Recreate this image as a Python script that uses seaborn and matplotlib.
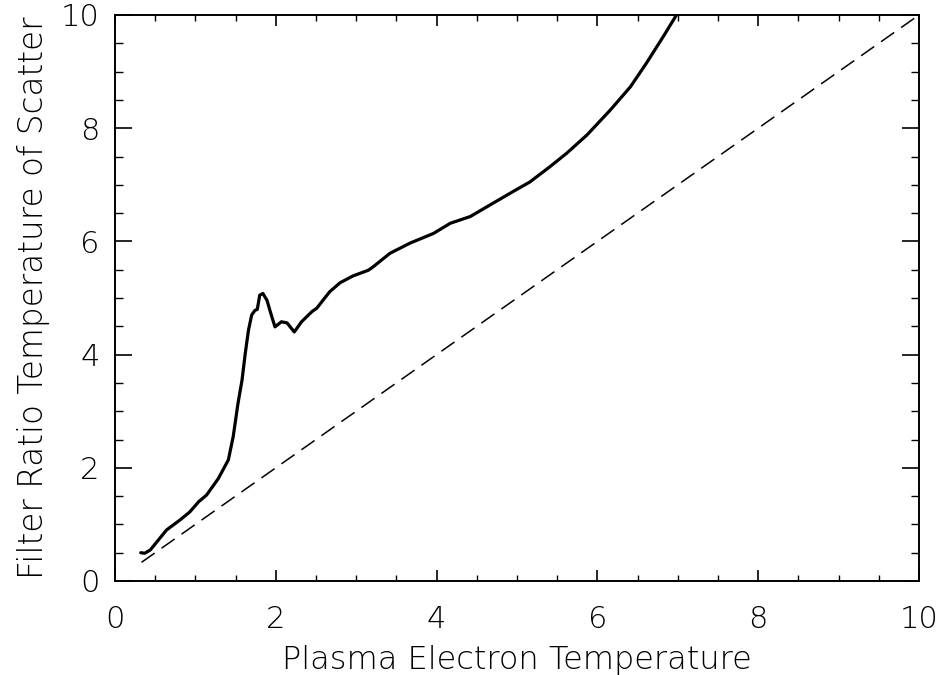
import matplotlib
matplotlib.use("Agg")
import matplotlib.pyplot as plt
from matplotlib.ticker import MultipleLocator
import seaborn as sns
import pandas as pd

# Filter-ratio temperature of scattered emission vs. plasma electron temperature
plasma_te = [0.32, 0.37, 0.44, 0.52, 0.64, 0.81, 0.93, 1.04, 1.14, 1.285,
             1.41, 1.47, 1.53, 1.58, 1.62, 1.66, 1.70, 1.74, 1.77, 1.80,
             1.84, 1.89, 1.95, 1.99, 2.07, 2.14, 2.23, 2.32, 2.45, 2.51,
             2.57, 2.67, 2.80, 2.96, 3.15, 3.21, 3.42, 3.67, 3.96, 4.17,
             4.42, 4.66, 4.95, 5.16, 5.41, 5.62, 5.87, 6.16, 6.41, 6.61,
             6.82, 6.97, 7.05]
scatter_te = [0.50, 0.49, 0.55, 0.69, 0.90, 1.08, 1.22, 1.40, 1.52, 1.81,
              2.14, 2.55, 3.14, 3.55, 4.02, 4.43, 4.70, 4.78, 4.80, 5.05,
              5.08, 4.96, 4.67, 4.49, 4.58, 4.56, 4.40, 4.58, 4.76, 4.82,
              4.93, 5.11, 5.27, 5.39, 5.49, 5.55, 5.79, 5.97, 6.14, 6.32,
              6.44, 6.64, 6.88, 7.05, 7.32, 7.56, 7.88, 8.32, 8.73, 9.15,
              9.62, 9.97, 10.15]

# one-to-one reference line
equal_x = [0.33, 10.0]
equal_y = [0.33, 10.0]

ticks = [0, 2, 4, 6, 8, 10]

sns.set_style("ticks")
plt.rcParams["font.family"] = ["DejaVu Sans"]
plt.rcParams["text.color"] = "black"
plt.rcParams["axes.labelcolor"] = "black"
plt.rcParams["xtick.color"] = "black"
plt.rcParams["ytick.color"] = "black"

fig = plt.figure(figsize=(9.4, 6.75), dpi=100)
ax = fig.add_axes([115 / 940, 1 - 581 / 675, 804 / 940, 566 / 675])

curve = pd.DataFrame({"te": plasma_te, "tf": scatter_te})
ref = pd.DataFrame({"te": equal_x, "tf": equal_y})

sns.lineplot(data=curve, x="te", y="tf", ax=ax, sort=False, estimator=None,
             color="black", linewidth=2.3)
sns.lineplot(data=ref, x="te", y="tf", ax=ax, sort=False, estimator=None,
             color="black", linewidth=1.1)
ax.lines[-1].set_linestyle((0, (10.5, 5.5)))

ax.set_xlim(0, 10)
ax.set_ylim(0, 10)
ax.set_xticks(ticks)
ax.set_yticks(ticks)
ax.set_xticklabels([str(t) for t in ticks])
ax.set_yticklabels([str(t) for t in ticks])
ax.xaxis.set_minor_locator(MultipleLocator(0.5))
ax.yaxis.set_minor_locator(MultipleLocator(0.5))

for s in ax.spines.values():
    s.set_visible(True)
    s.set_linewidth(1.4)
    s.set_color("black")

ax.tick_params(axis="x", which="major", direction="in", length=8, width=1.2,
               top=True, bottom=True, labelsize=22, pad=17, colors="black")
ax.tick_params(axis="x", which="minor", direction="in", length=4.3, width=1.0,
               top=True, bottom=True, colors="black")
ax.tick_params(axis="y", which="major", direction="in", length=12, width=1.2,
               left=True, right=True, labelsize=22, pad=11, colors="black")
ax.tick_params(axis="y", which="minor", direction="in", length=6, width=1.0,
               left=True, right=True, colors="black")
for lab in ax.get_xticklabels() + ax.get_yticklabels():
    lab.set_fontweight("light")

ax.set_xlabel("Plasma Electron Temperature", fontsize=23, fontweight="light",
              labelpad=8, color="black")
ax.set_ylabel("Filter Ratio Temperature of Scatter", fontsize=23.5,
              fontweight="light", labelpad=8, color="black")

fig.savefig("out.png", dpi=100, facecolor="white")
